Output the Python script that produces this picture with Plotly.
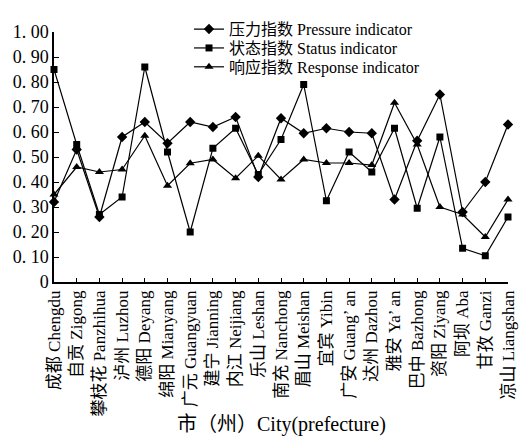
import plotly.graph_objects as go

cities = ["成都 Chengdu", "自贡 Zigong", "攀枝花 Panzhihua", "泸州 Luzhou", "德阳 Deyang",
          "绵阳 Mianyang", "广元 Guangyuan", "建宁 Jianning", "内江 Neijiang", "乐山 Leshan",
          "南充 Nanchong", "眉山 Meishan", "宜宾 Yibin", "广安 Guang’ an", "达州 Dazhou",
          "雅安 Ya’ an", "巴中 Bazhong", "资阳 Ziyang", "阿坝 Aba", "甘孜 Ganzi", "凉山 Liangshan"]

pressure = [0.32, 0.53, 0.26, 0.58, 0.64, 0.555, 0.64, 0.62, 0.66, 0.42, 0.655,
            0.595, 0.615, 0.60, 0.595, 0.33, 0.565, 0.75, 0.28, 0.40, 0.63]
status = [0.85, 0.55, 0.27, 0.34, 0.86, 0.52, 0.20, 0.535, 0.615, 0.43, 0.57,
          0.79, 0.325, 0.52, 0.44, 0.615, 0.295, 0.58, 0.135, 0.105, 0.26]
response = [0.35, 0.46, 0.44, 0.45, 0.585, 0.385, 0.475, 0.49, 0.415, 0.505, 0.41,
            0.49, 0.476, 0.476, 0.468, 0.717, 0.55, 0.30, 0.27, 0.18, 0.33]

series_names = ["压力指数 Pressure indicator", "状态指数 Status indicator", "响应指数 Response indicator"]
symbols = ["diamond", "square", "triangle-up"]
msizes = [8, 7, 8]

yvals = [0, 0.1, 0.2, 0.3, 0.4, 0.5, 0.6, 0.7, 0.8, 0.9, 1.0]
ytext = ["0", "0. 10", "0. 20", "0. 30", "0. 40", "0. 50", "0. 60", "0. 70", "0. 80", "0. 90", "1. 00"]

FONT = "Liberation Serif, Noto Sans CJK SC, serif"

# pixel geometry of the plot area
L, R, T, B = 54, 13, 17, 166
W, H = 521, 448
PH = H - T - B

def py(ypix):
    return (H - B - ypix) / PH

def px(xpix):
    return (xpix - L) / (W - L - R)

x = list(range(len(cities)))
fig = go.Figure()
legend_ids = ["legend", "legend2", "legend3"]
for name, vals, sym, ms, lid in zip(series_names, [pressure, status, response], symbols, msizes, legend_ids):
    fig.add_trace(go.Scatter(
        x=x, y=vals, name=name, mode="lines+markers",
        line=dict(color="black", width=1.2),
        marker=dict(symbol=sym, size=ms, color="black"),
        cliponaxis=False, legend=lid,
    ))

legend_rows = [14, 34, 54]
leg_common = dict(xanchor="left", yanchor="middle", bgcolor="rgba(0,0,0,0)", borderwidth=0,
                  font=dict(family=FONT, size=16, color="black"))
legends = {}
for lid, row in zip(legend_ids, legend_rows):
    legends[lid] = dict(x=px(189), y=py(row), **leg_common)

fig.update_layout(
    width=W, height=H,
    margin=dict(l=L, r=R, t=T, b=B),
    paper_bgcolor="white", plot_bgcolor="white",
    font=dict(family=FONT, color="black", size=17),
    showlegend=True,
    xaxis=dict(range=[0, 20], tickmode="array", tickvals=x, ticktext=cities,
               tickangle=-90, ticks="inside", ticklen=4, tickwidth=1.2, tickcolor="black",
               showline=True, linecolor="black", linewidth=1.5, showgrid=False, zeroline=False,
               tickfont=dict(family=FONT, size=17, color="black"), automargin=False),
    yaxis=dict(range=[0, 1.0], tickmode="array", tickvals=yvals, ticktext=ytext,
               ticks="inside", ticklen=5, tickwidth=1.2, tickcolor="black",
               showline=True, linecolor="black", linewidth=1.5, showgrid=False, zeroline=False,
               tickfont=dict(family=FONT, size=18, color="black"), automargin=False),
    **legends,
)

fig.add_annotation(text="市（州）City(prefecture)", x=0.5, xref="paper", y=py(433), yref="paper",
                   yanchor="middle", showarrow=False, font=dict(family=FONT, size=20, color="black"))

fig.write_html("out.html", config={"displayModeBar": False},
               post_script="document.body.style.margin='0';document.body.style.overflow='hidden';")
